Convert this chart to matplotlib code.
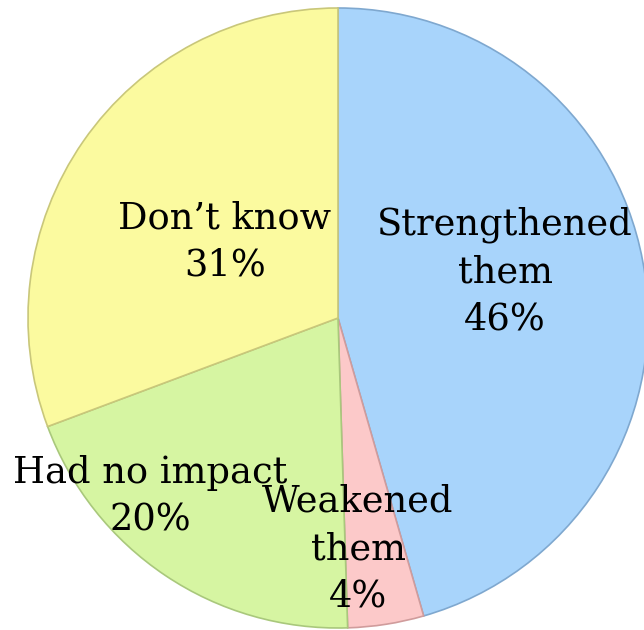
import matplotlib
matplotlib.use("Agg")
import matplotlib.pyplot as plt

categories = ["Strengthened\nthem", "Weakened\nthem", "Had no impact", "Don\u2019t know"]
values = [46, 4, 20, 31]
pct_labels = ["46%", "4%", "20%", "31%"]
colors = ["#a8d4fb", "#fcc9c9", "#d6f5a2", "#fbfa9f"]
edge_colors = ["#7fa8cf", "#d09c9c", "#a9c87c", "#c9c77a"]

W, H = 644, 630
fig = plt.figure(figsize=(W / 100, H / 100), dpi=100)
ax = fig.add_axes([0, 0, 1, 1])

cx, cy, R = 338, 318, 310  # pixel center (from top) and radius
wedges, _ = ax.pie(values, colors=colors, startangle=90, counterclock=False,
                   radius=1.0, center=(0, 0),
                   wedgeprops=dict(linewidth=1.2))
for w, ec in zip(wedges, edge_colors):
    w.set_edgecolor(ec)

ax.set_xlim(-cx / R, (W - cx) / R)
ax.set_ylim(-(H - cy) / R, cy / R)
ax.set_aspect("auto")
ax.axis("off")

# label positions in pixel coordinates (from top-left)
label_px = [(505, 272), (358, 549), (150, 497), (225, 242)]
for cat, pct, (px, py) in zip(categories, pct_labels, label_px):
    x = (px - cx) / R
    y = (cy - py) / R
    ax.text(x, y, f"{cat}\n{pct}", ha="center", va="center",
            fontsize=26.5, family="DejaVu Serif", linespacing=1.4)

fig.savefig("out.png", dpi=100)
